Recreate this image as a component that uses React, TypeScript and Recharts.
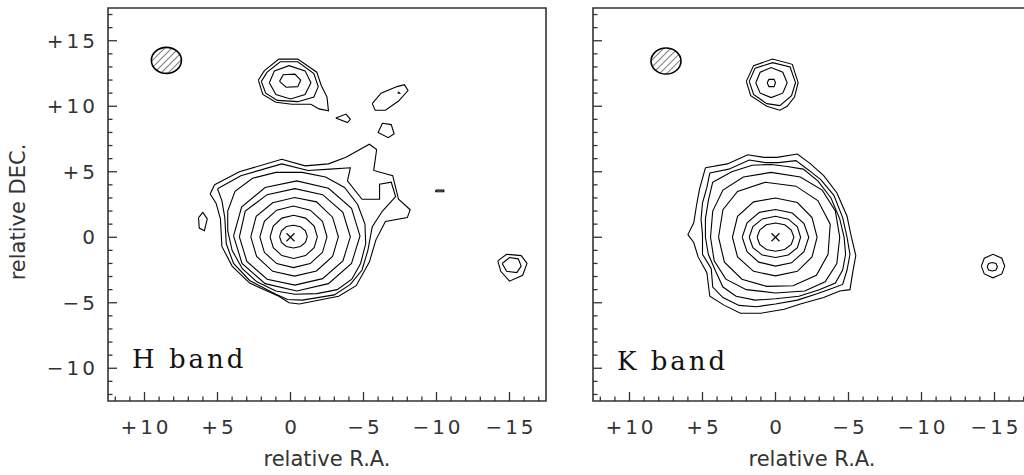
import React from "react";
import { ScatterChart, Scatter, XAxis, YAxis, ReferenceArea } from "recharts";

type Pt = [number, number]; // [relative R.A., relative DEC.] in arcsec

// axis ticks (every arcsec, labelled every 5)
const raTicks = [12, 11, 10, 9, 8, 7, 6, 5, 4, 3, 2, 1, 0, -1, -2, -3, -4, -5, -6, -7, -8, -9, -10, -11, -12, -13, -14, -15, -16, -17];
const decTicks = [-12, -11, -10, -9, -8, -7, -6, -5, -4, -3, -2, -1, 0, 1, 2, 3, 4, 5, 6, 7, 8, 9, 10, 11, 12, 13, 14, 15, 16, 17];
const raLabels: Record<string, string> = { "10": "+10", "5": "+5", "0": "0", "-5": "−5", "-10": "−10", "-15": "−15" };
const decLabels: Record<string, string> = { "15": "+15", "10": "+10", "5": "+5", "0": "0", "-5": "−5", "-10": "−10" };

// ---- H band contours ----
const hCore1: Pt[] = [[0.75, 0.05], [0.62, 0.49], [0.28, 0.82], [-0.2, 0.92], [-0.68, 0.8], [-1.02, 0.49], [-1.15, 0.05], [-1.02, -0.39], [-0.68, -0.7], [-0.2, -0.82], [0.28, -0.7], [0.62, -0.39], [0.75, 0.05]];
const hCore2: Pt[] = [[1.4, 0.03], [1.18, 0.86], [0.59, 1.46], [-0.22, 1.68], [-1.03, 1.46], [-1.62, 0.86], [-1.84, 0.03], [-1.62, -0.8], [-1.03, -1.4], [-0.22, -1.62], [0.59, -1.4], [1.18, -0.8], [1.4, 0.03]];
const hCore3: Pt[] = [[2.1, 0.03], [1.79, 1.21], [0.95, 2.07], [-0.2, 2.38], [-1.35, 2.07], [-2.19, 1.21], [-2.5, 0.03], [-2.19, -1.15], [-1.35, -2.01], [-0.2, -2.32], [0.95, -2.01], [1.79, -1.15], [2.1, 0.03]];
const hCore4: Pt[] = [[2.72, 0.03], [2.35, 1.6], [1.22, 2.63], [-0.28, 3.03], [-1.78, 2.7], [-2.88, 1.53], [-3.28, 0.03], [-2.88, -1.47], [-1.78, -2.57], [-0.28, -2.97], [1.22, -2.6], [2.32, -1.47], [2.72, 0.03]];
const hCore5: Pt[] = [[3.5, 0.03], [3.1, 2.0], [1.6, 3.25], [-0.3, 3.71], [-2.2, 3.25], [-3.59, 1.9], [-4.1, 0.03], [-3.59, -1.81], [-2.2, -3.16], [-0.3, -3.65], [1.6, -3.2], [2.99, -1.85], [3.5, 0.03]];
const hCore6: Pt[] = [[3.9, 0.1], [3.35, 2.3], [1.74, 3.8], [-0.43, 4.3], [-2.6, 3.74], [-4.18, 2.2], [-4.76, 0.1], [-4.18, -2.0], [-2.6, -3.54], [-0.43, -4.1], [1.74, -3.54], [3.32, -2.0], [3.9, 0.1]];
const hCore7: Pt[] = [[4.3, 0.5], [4.3, 2.0], [3.8, 3.5], [2.6, 4.5], [1.0, 4.95], [-0.8, 4.95], [-2.4, 4.6], [-3.7, 3.8], [-4.6, 2.5], [-5.1, 1.0], [-5.15, -0.5], [-4.8, -2.0], [-4.2, -3.2], [-3.2, -4.0], [-1.8, -4.3], [-0.3, -4.35], [1.0, -4.1], [2.3, -3.4], [3.3, -2.4], [4.0, -1.0], [4.3, 0.5]];
const hCore8: Pt[] = [[5.0, 3.7], [3.4, 4.7], [0.6, 5.6], [-1.2, 5.1], [-2.7, 5.2], [-4.1, 5.3], [-3.9, 4.3], [-4.9, 2.9], [-6.1, 2.9], [-6.1, 4.05], [-6.9, 4.2], [-7.2, 3.1], [-6.3, 2.0], [-5.6, 0.8], [-5.3, -1.0], [-4.9, -2.5], [-4.1, -3.6], [-3.0, -4.4], [-0.8, -4.8], [0.2, -4.75], [1.0, -4.35], [2.8, -3.3], [3.9, -2.0], [4.4, -0.5], [4.5, 1.5], [4.7, 2.8], [5.0, 3.7]];
const hCore9: Pt[] = [[5.2, 4.0], [3.5, 5.0], [0.6, 5.95], [-1.0, 5.45], [-2.6, 5.6], [-3.8, 6.1], [-5.4, 7.1], [-5.9, 6.7], [-5.7, 5.1], [-7.0, 4.7], [-7.4, 2.9], [-8.2, 2.1], [-8.0, 1.5], [-6.5, 1.2], [-5.85, -0.2], [-5.4, -1.9], [-4.5, -3.7], [-3.3, -4.5], [-0.6, -5.1], [0.1, -5.0], [0.8, -4.5], [2.8, -3.5], [4.0, -2.2], [4.7, -0.7], [4.8, 1.4], [5.1, 2.6], [5.5, 3.3], [5.2, 4.0]];
const hComp1: Pt[] = [[0.75, 11.9], [0.5, 12.4], [-0.3, 12.45], [-0.7, 12.0], [-0.5, 11.5], [0.3, 11.45], [0.75, 11.9]];
const hComp2: Pt[] = [[1.45, 11.8], [1.1, 12.7], [0.1, 13.1], [-1.0, 12.7], [-1.4, 11.8], [-1.0, 10.9], [0.0, 10.55], [1.0, 10.9], [1.45, 11.8]];
const hComp3: Pt[] = [[2.0, 11.9], [1.6, 12.6], [0.7, 13.4], [-0.5, 13.4], [-1.6, 12.5], [-1.9, 11.5], [-1.6, 10.7], [-0.5, 10.35], [0.9, 10.45], [1.7, 11.0], [2.0, 11.9]];
const hComp4: Pt[] = [[2.2, 12.0], [1.8, 12.7], [0.8, 13.6], [-0.5, 13.6], [-1.8, 12.6], [-2.1, 11.6], [-2.5, 10.7], [-2.6, 9.65], [-1.95, 9.8], [-1.4, 10.15], [-0.1, 10.15], [1.0, 10.3], [1.9, 10.9], [2.2, 12.0]];
const hKnot1: Pt[] = [[-3.1, 9.1], [-3.8, 9.4], [-4.1, 9.0], [-3.9, 8.75], [-3.1, 9.1]];
const hKnot2: Pt[] = [[-5.6, 10.2], [-6.2, 11.0], [-7.3, 11.5], [-7.8, 11.65], [-8.05, 11.2], [-7.4, 10.4], [-6.5, 9.7], [-5.8, 9.7], [-5.6, 10.2]];
const hKnot2Dot: Pt[] = [[-7.38, 11.1], [-7.48, 11.0], [-7.38, 11.0], [-7.38, 11.1]];
const hKnot3: Pt[] = [[-6.3, 8.7], [-6.9, 8.6], [-7.1, 7.9], [-6.7, 7.6], [-6.0, 8.0], [-6.3, 8.7]];
const hKnot4: Pt[] = [[-9.95, 3.6], [-10.5, 3.6], [-10.5, 3.47], [-9.95, 3.47], [-9.95, 3.6]];
const hEastKnot: Pt[] = [[6.3, 1.5], [6.0, 1.9], [5.7, 1.4], [5.9, 0.5], [6.25, 0.7], [6.3, 1.5]];
const hStar1: Pt[] = [[-14.5, -2.0], [-15.0, -1.55], [-15.6, -1.65], [-15.8, -2.2], [-15.5, -2.7], [-14.8, -2.6], [-14.5, -2.0]];
const hStar2: Pt[] = [[-14.2, -1.8], [-14.8, -1.3], [-15.8, -1.4], [-16.2, -2.0], [-15.9, -2.9], [-15.0, -3.35], [-14.4, -2.6], [-14.2, -1.8]];

// ---- K band contours ----
const kCore1: Pt[] = [[1.26, 0.0], [1.08, 0.55], [0.63, 0.95], [0.0, 1.09], [-0.63, 0.95], [-1.08, 0.55], [-1.26, 0.0], [-1.08, -0.55], [-0.63, -0.93], [0.0, -1.07], [0.63, -0.93], [1.08, -0.55], [1.26, 0.0]];
const kCore2: Pt[] = [[1.8, 0.0], [1.55, 0.82], [0.9, 1.4], [0.0, 1.6], [-0.88, 1.38], [-1.5, 0.8], [-1.72, 0.0], [-1.5, -0.8], [-0.88, -1.35], [0.0, -1.55], [0.9, -1.36], [1.55, -0.8], [1.8, 0.0]];
const kCore3: Pt[] = [[2.28, 0.0], [1.95, 1.1], [1.1, 1.9], [0.0, 2.12], [-1.15, 1.85], [-1.95, 1.05], [-2.28, 0.0], [-1.95, -1.1], [-1.1, -1.95], [0.0, -2.2], [1.15, -1.9], [1.95, -1.1], [2.28, 0.0]];
const kCore4: Pt[] = [[2.95, 0.0], [2.6, 1.6], [1.5, 2.7], [0.0, 3.0], [-1.5, 2.65], [-2.5, 1.5], [-2.85, 0.0], [-2.5, -1.5], [-1.5, -2.6], [0.0, -2.95], [1.5, -2.6], [2.6, -1.5], [2.95, 0.0]];
const kCore5: Pt[] = [[3.9, 0.0], [3.6, 2.1], [2.6, 3.5], [0.7, 4.2], [-1.4, 3.9], [-2.9, 2.8], [-3.75, 1.0], [-3.6, -1.3], [-2.8, -2.9], [-1.2, -3.7], [0.6, -3.75], [2.3, -3.2], [3.5, -1.9], [3.9, 0.0]];
const kCore6: Pt[] = [[4.45, 0.0], [4.3, 2.0], [3.6, 3.6], [2.2, 4.6], [0.3, 4.95], [-1.7, 4.6], [-3.2, 3.6], [-4.1, 2.0], [-4.4, 0.0], [-4.2, -2.0], [-3.4, -3.4], [-2.0, -4.1], [0.0, -4.25], [2.0, -4.0], [3.4, -3.2], [4.2, -1.8], [4.45, 0.0]];
const kCore7: Pt[] = [[4.3, 4.2], [3.0, 5.0], [1.6, 5.5], [0.3, 5.55], [-0.8, 5.4], [-1.9, 5.2], [-2.9, 4.3], [-3.8, 3.0], [-4.4, 1.4], [-4.7, 0.0], [-4.8, -1.3], [-4.6, -2.5], [-4.1, -3.5], [-3.0, -4.0], [-1.6, -4.5], [0.0, -4.7], [1.4, -4.8], [2.7, -4.5], [3.6, -3.8], [4.1, -2.6], [4.6, -1.3], [4.8, 0.0], [4.8, 1.4], [4.6, 2.8], [4.3, 4.2]];
const kCore8: Pt[] = [[4.5, 4.9], [3.2, 5.2], [1.8, 5.9], [0.7, 5.7], [-0.2, 5.7], [-1.4, 5.85], [-2.3, 5.1], [-3.1, 4.4], [-4.0, 3.2], [-4.6, 1.5], [-4.9, 0.0], [-5.1, -1.3], [-4.9, -2.5], [-4.6, -3.6], [-3.9, -3.9], [-2.9, -4.3], [-1.5, -4.8], [0.0, -5.1], [1.3, -5.3], [2.5, -5.2], [3.6, -4.6], [4.3, -3.8], [4.4, -2.4], [5.0, -1.3], [5.0, 0.2], [5.1, 1.4], [5.0, 2.6], [4.7, 3.8], [4.5, 4.9]];
const kCore9: Pt[] = [[4.8, 5.3], [3.3, 5.6], [1.9, 6.3], [0.8, 6.1], [-0.1, 6.1], [-1.5, 6.35], [-2.4, 5.6], [-3.3, 4.7], [-4.2, 3.4], [-4.9, 1.6], [-5.2, 0.0], [-5.5, -1.4], [-5.3, -2.6], [-5.1, -4.0], [-4.4, -4.1], [-3.3, -4.6], [-1.7, -5.1], [-0.6, -5.5], [1.0, -5.8], [2.4, -5.8], [3.5, -5.2], [4.5, -4.5], [4.7, -2.7], [5.3, -1.5], [5.6, -0.4], [6.0, 0.2], [5.6, 1.1], [5.4, 2.5], [5.2, 3.7], [4.8, 5.3]];
const kComp1: Pt[] = [[0.57, 11.8], [0.45, 12.05], [0.1, 12.05], [0.0, 11.8], [0.1, 11.5], [0.45, 11.5], [0.57, 11.8]];
const kComp2: Pt[] = [[1.35, 11.8], [1.05, 12.6], [0.3, 12.95], [-0.5, 12.6], [-0.8, 11.8], [-0.5, 11.0], [0.3, 10.66], [1.05, 11.0], [1.35, 11.8]];
const kComp3: Pt[] = [[1.8, 11.9], [1.4, 12.9], [0.2, 13.33], [-1.0, 13.0], [-1.37, 11.8], [-1.1, 10.8], [-0.3, 10.05], [0.6, 10.2], [1.5, 10.9], [1.8, 11.9]];
const kComp4: Pt[] = [[2.0, 11.9], [1.5, 13.1], [0.2, 13.6], [-1.15, 13.2], [-1.55, 11.8], [-1.3, 10.7], [-0.8, 10.0], [-0.3, 9.7], [0.6, 10.0], [1.7, 10.8], [2.0, 11.9]];
const kStar1: Pt[] = [[-14.5, -2.25], [-14.6, -2.0], [-14.85, -1.93], [-15.1, -2.0], [-15.2, -2.25], [-15.1, -2.5], [-14.85, -2.57], [-14.6, -2.5], [-14.5, -2.25]];
const kStar2: Pt[] = [[-14.1, -2.2], [-14.3, -1.6], [-14.9, -1.3], [-15.5, -1.6], [-15.7, -2.2], [-15.5, -2.8], [-14.9, -3.1], [-14.3, -2.8], [-14.1, -2.2]];

// beam and nucleus positions
const hBeam = [{ ra: 8.5, dec: 13.5 }];
const kBeam = [{ ra: 7.5, dec: 13.45 }];
const nucleus = [{ ra: 0, dec: 0 }];

const hContours = [hCore1, hCore2, hCore3, hCore4, hCore5, hCore6, hCore7, hCore8, hCore9, hComp1, hComp2, hComp3, hComp4, hKnot1, hKnot2, hKnot2Dot, hKnot3, hKnot4, hEastKnot, hStar1, hStar2];
const kContours = [kCore1, kCore2, kCore3, kCore4, kCore5, kCore6, kCore7, kCore8, kCore9, kComp1, kComp2, kComp3, kComp4, kStar1, kStar2];

const tickFont = { fontFamily: "'DejaVu Sans', sans-serif", fontSize: 20, letterSpacing: 3, fill: "#333" };

const raTick = (props: any) => {
  const { x, y, payload } = props;
  const label = raLabels[String(payload.value)];
  return (
    <g>
      <line x1={x} y1={y} x2={x} y2={y - (label ? 9 : 4.5)} stroke="#333" strokeWidth={1.3} />
      {label && (
        <text x={x + 1.5} y={y + 33} textAnchor="middle" {...tickFont}>
          {label}
        </text>
      )}
    </g>
  );
};

const decTick = (withLabels: boolean) => (props: any) => {
  const { x, y, payload } = props;
  const label = decLabels[String(payload.value)];
  return (
    <g>
      <line x1={x} y1={y} x2={x + (label ? 9 : 4.5)} y2={y} stroke="#333" strokeWidth={1.3} />
      {withLabels && label && (
        <text x={x - 10} y={y + 7} textAnchor="end" {...tickFont}>
          {label}
        </text>
      )}
    </g>
  );
};

const beamShape = (id: string) => (props: any) => (
  <g>
    <defs>
      <pattern id={id} patternUnits="userSpaceOnUse" width={5} height={5} patternTransform="rotate(45)">
        <line x1={0} y1={0} x2={0} y2={5} stroke="#000" strokeWidth={1} />
      </pattern>
    </defs>
    <ellipse cx={props.cx} cy={props.cy} rx={15} ry={13} fill={`url(#${id})`} stroke="#000" strokeWidth={1.6} />
  </g>
);

const crossShape = (props: any) => (
  <g stroke="#000" strokeWidth={1.1}>
    <line x1={props.cx - 4} y1={props.cy - 4} x2={props.cx + 4} y2={props.cy + 4} />
    <line x1={props.cx - 4} y1={props.cy + 4} x2={props.cx + 4} y2={props.cy - 4} />
  </g>
);

const noDot = () => <g />;

function Panel({ contours, beam, hatchId, decLabelsOn }: { contours: Pt[][]; beam: { ra: number; dec: number }[]; hatchId: string; decLabelsOn: boolean }) {
  return (
    <ScatterChart width={560} height={475} margin={{ top: 8, right: 14, bottom: 34, left: 8 }}>
      <XAxis
        type="number"
        dataKey="ra"
        domain={[-17.5, 12.5]}
        reversed
        allowDataOverflow
        ticks={raTicks}
        interval={0}
        tickSize={0}
        tickMargin={0}
        axisLine={false}
        tickLine={false}
        height={40}
        tick={raTick}
      />
      <YAxis
        type="number"
        dataKey="dec"
        domain={[-12.5, 17.5]}
        allowDataOverflow
        ticks={decTicks}
        interval={0}
        tickSize={0}
        tickMargin={0}
        axisLine={false}
        tickLine={false}
        width={100}
        tick={decTick(decLabelsOn)}
      />
      <ReferenceArea x1={12.5} x2={-17.5} y1={-12.5} y2={17.5} fill="none" fillOpacity={0} stroke="#333" strokeWidth={1.6} />
      {contours.map((c, i) => (
        <Scatter
          key={i}
          data={c.map(([ra, dec]) => ({ ra, dec }))}
          line={{ stroke: "#000", strokeWidth: 1.1 }}
          shape={noDot}
          isAnimationActive={false}
        />
      ))}
      <Scatter data={beam} shape={beamShape(hatchId)} isAnimationActive={false} />
      <Scatter data={nucleus} shape={crossShape} isAnimationActive={false} />
    </ScatterChart>
  );
}

export default function App() {
  const labelFont = { fontFamily: "'DejaVu Sans', sans-serif", fontSize: 21, fill: "#333" };
  const bandFont = { fontFamily: "'DejaVu Serif', serif", fontSize: 26, letterSpacing: 3, fill: "#111" };
  return (
    <div style={{ position: "absolute", left: 0, top: 0, width: 1024, height: 475, overflow: "hidden", background: "#fff" }}>
      <div style={{ position: "absolute", left: 0, top: 0 }}>
        <Panel contours={hContours} beam={hBeam} hatchId="hatchH" decLabelsOn />
      </div>
      <div style={{ position: "absolute", left: 485, top: 0 }}>
        <Panel contours={kContours} beam={kBeam} hatchId="hatchK" decLabelsOn={false} />
      </div>
      <svg width={1024} height={475} style={{ position: "absolute", left: 0, top: 0, pointerEvents: "none" }}>
        <text x={132} y={368} {...bandFont}>H band</text>
        <text x={617} y={370} {...bandFont}>K band</text>
        <text x={327} y={466} textAnchor="middle" {...labelFont}>relative R.A.</text>
        <text x={812} y={466} textAnchor="middle" {...labelFont}>relative R.A.</text>
        <text x={25} y={212} textAnchor="middle" transform="rotate(-90 25 212)" {...labelFont}>relative DEC.</text>
      </svg>
    </div>
  );
}
